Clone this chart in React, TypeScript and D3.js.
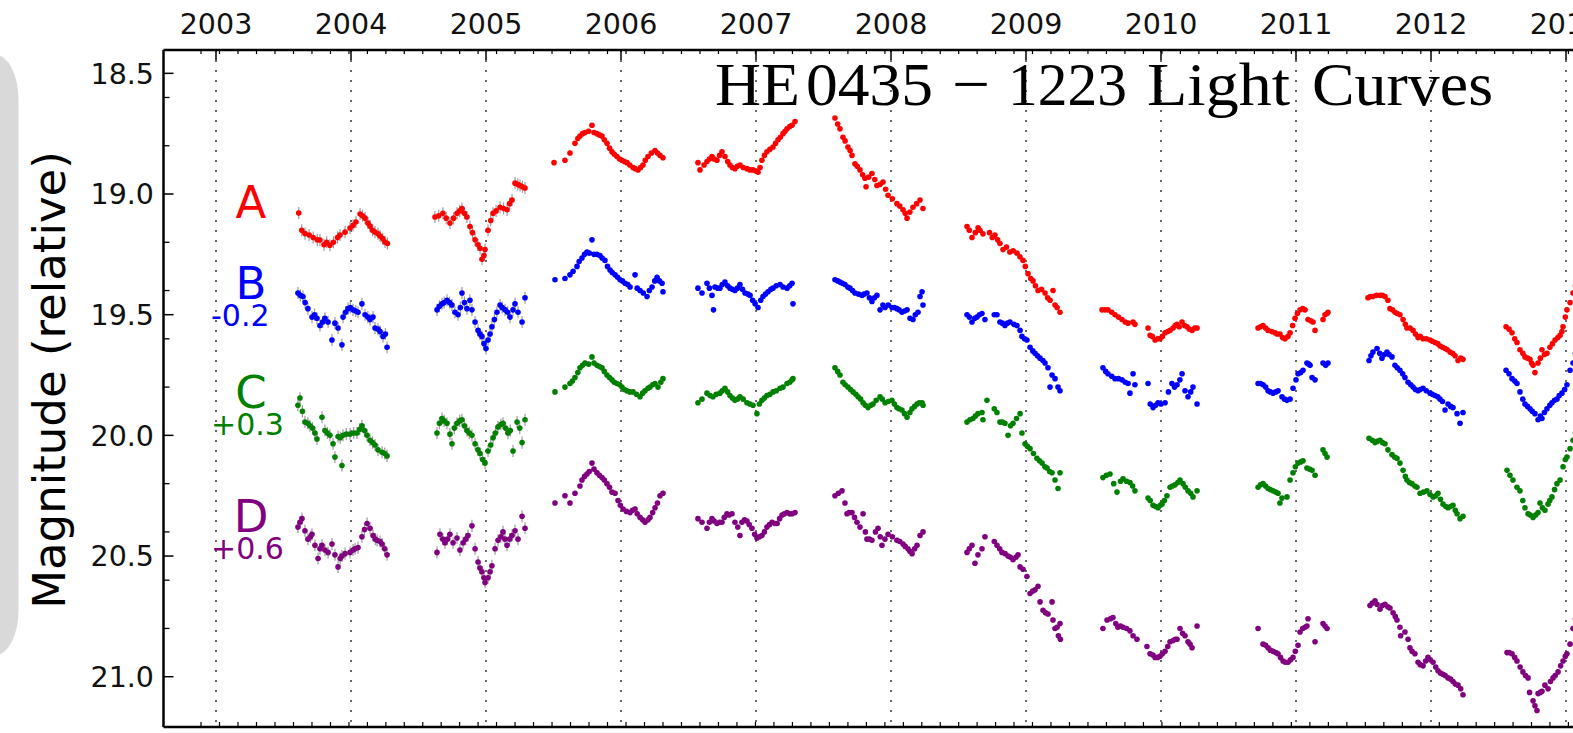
import React from 'react';
import * as d3 from 'd3';

// light curves as [decimal year, displayed magnitude], one array per observing season
const curveA: number[][][] = [
  [[2003.613,19.079],[2003.635,19.15],[2003.659,19.164],[2003.69,19.17],[2003.72,19.18],[2003.75,19.19],[2003.77,19.191],[2003.80,19.21],[2003.82,19.20],[2003.844,19.212],[2003.87,19.2],[2003.90,19.18],[2003.919,19.17],[2003.956,19.158],[2003.993,19.141],[2004.015,19.13],[2004.037,19.116],[2004.067,19.083],[2004.085,19.09],[2004.104,19.1],[2004.125,19.12],[2004.141,19.133],[2004.16,19.15],[2004.178,19.158],[2004.2,19.165],[2004.215,19.174],[2004.235,19.185],[2004.252,19.199],[2004.27,19.205]],
  [[2004.622,19.095],[2004.65,19.09],[2004.681,19.08],[2004.705,19.1],[2004.733,19.12],[2004.76,19.1],[2004.785,19.08],[2004.805,19.07],[2004.822,19.06],[2004.84,19.08],[2004.859,19.095],[2004.881,19.135],[2004.9,19.16],[2004.919,19.19],[2004.94,19.21],[2004.956,19.225],[2004.97,19.27],[2004.985,19.255],[2004.993,19.23],[2005.015,19.15],[2005.035,19.11],[2005.052,19.08],[2005.075,19.07],[2005.104,19.055],[2005.13,19.06],[2005.156,19.065],[2005.175,19.04],[2005.193,19.025],[2005.215,18.955],[2005.235,18.96],[2005.252,18.965],[2005.27,18.97],[2005.289,18.975]],
  [[2005.504,18.87],[2005.585,18.86],[2005.622,18.83],[2005.659,18.79],[2005.68,18.77],[2005.696,18.76],[2005.715,18.75],[2005.733,18.745],[2005.76,18.74],[2005.785,18.715],[2005.80,18.745],[2005.822,18.75],[2005.84,18.755],[2005.859,18.76],[2005.876,18.775],[2005.896,18.79],[2005.915,18.81],[2005.933,18.825],[2005.95,18.835],[2005.97,18.845],[2005.99,18.855],[2006.007,18.86],[2006.025,18.865],[2006.044,18.87],[2006.065,18.88],[2006.089,18.89],[2006.105,18.895],[2006.126,18.9],[2006.145,18.89],[2006.163,18.88],[2006.18,18.86],[2006.2,18.845],[2006.225,18.83],[2006.252,18.82],[2006.27,18.83],[2006.289,18.84],[2006.311,18.85]],
  [[2006.570,18.87],[2006.585,18.9],[2006.615,18.88],[2006.637,18.865],[2006.655,18.855],[2006.674,18.845],[2006.69,18.855],[2006.711,18.86],[2006.73,18.84],[2006.748,18.825],[2006.77,18.845],[2006.79,18.865],[2006.807,18.88],[2006.825,18.89],[2006.844,18.895],[2006.862,18.885],[2006.881,18.88],[2006.905,18.89],[2006.933,18.895],[2006.955,18.9],[2006.978,18.9],[2007.0,18.905],[2007.015,18.91],[2007.03,18.89],[2007.044,18.86],[2007.062,18.84],[2007.081,18.825],[2007.103,18.815],[2007.126,18.805],[2007.145,18.79],[2007.163,18.775],[2007.18,18.765],[2007.2,18.75],[2007.215,18.74],[2007.23,18.73],[2007.25,18.72],[2007.267,18.715],[2007.289,18.7]],
  [[2007.585,18.685],[2007.605,18.71],[2007.622,18.73],[2007.644,18.765],[2007.66,18.78],[2007.681,18.805],[2007.697,18.82],[2007.711,18.84],[2007.733,18.875],[2007.75,18.885],[2007.770,18.9],[2007.79,18.92],[2007.807,18.935],[2007.815,18.97],[2007.835,18.93],[2007.859,18.915],[2007.88,18.94],[2007.896,18.965],[2007.92,18.96],[2007.941,18.95],[2007.96,18.98],[2007.978,19.005],[2008.01,19.02],[2008.044,19.04],[2008.065,19.05],[2008.089,19.065],[2008.105,19.08],[2008.119,19.1],[2008.14,19.075],[2008.163,19.055],[2008.19,19.04],[2008.215,19.025],[2008.237,19.06]],
  [[2008.563,19.135],[2008.58,19.15],[2008.6,19.18],[2008.625,19.16],[2008.645,19.14],[2008.659,19.15],[2008.681,19.165],[2008.73,19.16],[2008.750,19.18],[2008.770,19.17],[2008.79,19.19],[2008.807,19.205],[2008.83,19.23],[2008.855,19.22],[2008.88,19.24],[2008.905,19.235],[2008.933,19.245],[2008.955,19.26],[2008.978,19.275],[2008.995,19.3],[2009.015,19.33],[2009.035,19.35],[2009.052,19.36],[2009.07,19.38],[2009.089,19.4],[2009.115,19.395],[2009.141,19.41],[2009.16,19.43],[2009.178,19.44],[2009.2,19.4],[2009.215,19.46],[2009.23,19.47],[2009.252,19.49]],
  [[2009.563,19.48],[2009.585,19.48],[2009.607,19.48],[2009.635,19.49],[2009.659,19.5],[2009.685,19.51],[2009.711,19.52],[2009.735,19.53],[2009.756,19.535],[2009.793,19.53],[2009.807,19.54],[2009.904,19.555],[2009.919,19.585],[2009.935,19.59],[2009.956,19.605],[2009.975,19.6],[2009.993,19.6],[2010.01,19.59],[2010.030,19.575],[2010.05,19.57],[2010.067,19.565],[2010.09,19.555],[2010.105,19.545],[2010.119,19.54],[2010.135,19.55],[2010.156,19.53],[2010.175,19.545],[2010.193,19.55],[2010.21,19.56],[2010.23,19.565],[2010.25,19.555],[2010.267,19.555]],
  [[2010.719,19.555],[2010.737,19.55],[2010.756,19.545],[2010.775,19.555],[2010.793,19.565],[2010.82,19.57],[2010.844,19.575],[2010.86,19.58],[2010.881,19.58],[2010.9,19.595],[2010.919,19.6],[2010.94,19.59],[2010.956,19.575],[2010.975,19.545],[2010.993,19.515],[2011.01,19.495],[2011.030,19.48],[2011.05,19.475],[2011.067,19.48],[2011.089,19.52],[2011.11,19.525],[2011.126,19.53],[2011.141,19.565],[2011.2,19.52],[2011.215,19.5],[2011.23,19.495],[2011.237,19.49]],
  [[2011.533,19.43],[2011.55,19.425],[2011.57,19.425],[2011.595,19.42],[2011.622,19.42],[2011.64,19.42],[2011.659,19.425],[2011.681,19.44],[2011.696,19.475],[2011.715,19.48],[2011.733,19.49],[2011.75,19.495],[2011.77,19.5],[2011.793,19.52],[2011.81,19.54],[2011.822,19.555],[2011.845,19.555],[2011.867,19.565],[2011.885,19.58],[2011.904,19.595],[2011.92,19.59],[2011.941,19.6],[2011.965,19.6],[2011.993,19.605],[2012.01,19.61],[2012.03,19.615],[2012.05,19.62],[2012.067,19.63],[2012.085,19.635],[2012.104,19.64],[2012.12,19.645],[2012.141,19.655],[2012.16,19.66],[2012.178,19.67],[2012.2,19.69],[2012.22,19.68],[2012.237,19.685]],
  [[2012.556,19.55],[2012.578,19.56],[2012.6,19.575],[2012.62,19.6],[2012.637,19.615],[2012.659,19.645],[2012.68,19.66],[2012.696,19.675],[2012.715,19.68],[2012.733,19.685],[2012.745,19.7],[2012.756,19.71],[2012.77,19.74],[2012.793,19.7],[2012.81,19.68],[2012.822,19.645],[2012.84,19.665],[2012.859,19.66],[2012.881,19.635],[2012.9,19.62],[2012.919,19.605],[2012.94,19.595],[2012.956,19.585],[2012.97,19.57],[2012.978,19.55],[2012.995,19.51],[2013.007,19.48],[2013.03,19.45],[2013.052,19.41],[2013.07,19.38]],
];

const curveB: number[][][] = [
  [[2003.607,19.41],[2003.625,19.42],[2003.644,19.425],[2003.66,19.45],[2003.681,19.475],[2003.711,19.51],[2003.73,19.5],[2003.748,19.515],[2003.77,19.545],[2003.79,19.53],[2003.807,19.515],[2003.83,19.53],[2003.859,19.605],[2003.881,19.535],[2003.904,19.555],[2003.933,19.625],[2003.941,19.51],[2003.96,19.49],[2003.978,19.475],[2003.995,19.47],[2004.015,19.48],[2004.035,19.485],[2004.052,19.49],[2004.081,19.455],[2004.104,19.5],[2004.125,19.51],[2004.141,19.52],[2004.163,19.51],[2004.178,19.555],[2004.2,19.56],[2004.215,19.57],[2004.237,19.59],[2004.255,19.58],[2004.267,19.635]],
  [[2004.637,19.48],[2004.655,19.465],[2004.674,19.455],[2004.69,19.45],[2004.711,19.44],[2004.73,19.45],[2004.748,19.46],[2004.77,19.49],[2004.793,19.5],[2004.81,19.47],[2004.822,19.41],[2004.84,19.45],[2004.859,19.475],[2004.881,19.44],[2004.896,19.48],[2004.919,19.53],[2004.941,19.565],[2004.955,19.58],[2004.970,19.59],[2004.985,19.62],[2005.0,19.64],[2005.015,19.605],[2005.03,19.58],[2005.044,19.55],[2005.062,19.52],[2005.081,19.49],[2005.104,19.46],[2005.12,19.47],[2005.141,19.48],[2005.16,19.49],[2005.178,19.51],[2005.2,19.48],[2005.215,19.455],[2005.237,19.49],[2005.267,19.53],[2005.289,19.43]],
  [[2005.511,19.355],[2005.585,19.35],[2005.622,19.335],[2005.645,19.32],[2005.674,19.3],[2005.69,19.28],[2005.711,19.265],[2005.73,19.25],[2005.748,19.24],[2005.765,19.245],[2005.785,19.19],[2005.80,19.25],[2005.822,19.25],[2005.844,19.255],[2005.86,19.265],[2005.881,19.275],[2005.9,19.3],[2005.919,19.315],[2005.935,19.325],[2005.956,19.335],[2005.975,19.345],[2005.993,19.355],[2006.01,19.36],[2006.03,19.37],[2006.05,19.375],[2006.067,19.385],[2006.104,19.335],[2006.12,19.39],[2006.141,19.4],[2006.165,19.41],[2006.193,19.425],[2006.21,19.4],[2006.23,19.385],[2006.25,19.36],[2006.267,19.345],[2006.285,19.36],[2006.304,19.37],[2006.311,19.405]],
  [[2006.57,19.39],[2006.6,19.41],[2006.637,19.37],[2006.655,19.39],[2006.674,19.42],[2006.685,19.48],[2006.696,19.385],[2006.715,19.39],[2006.733,19.39],[2006.75,19.375],[2006.77,19.365],[2006.79,19.38],[2006.807,19.39],[2006.825,19.395],[2006.844,19.4],[2006.862,19.39],[2006.881,19.375],[2006.9,19.395],[2006.919,19.41],[2006.94,19.415],[2006.956,19.42],[2006.975,19.44],[2006.993,19.455],[2007.015,19.47],[2007.035,19.44],[2007.052,19.425],[2007.07,19.415],[2007.089,19.405],[2007.11,19.395],[2007.126,19.39],[2007.15,19.38],[2007.178,19.375],[2007.2,19.385],[2007.23,19.39],[2007.25,19.38],[2007.267,19.37],[2007.274,19.455]],
  [[2007.585,19.355],[2007.605,19.36],[2007.622,19.365],[2007.64,19.37],[2007.659,19.375],[2007.68,19.385],[2007.696,19.39],[2007.715,19.40],[2007.733,19.41],[2007.76,19.415],[2007.785,19.42],[2007.80,19.415],[2007.822,19.41],[2007.84,19.43],[2007.859,19.445],[2007.877,19.43],[2007.896,19.42],[2007.919,19.48],[2007.94,19.46],[2007.956,19.47],[2007.98,19.46],[2008.007,19.47],[2008.025,19.47],[2008.044,19.475],[2008.06,19.48],[2008.081,19.49],[2008.1,19.485],[2008.119,19.48],[2008.141,19.515],[2008.163,19.52],[2008.18,19.5],[2008.2,19.49],[2008.215,19.425],[2008.23,19.405],[2008.237,19.46]],
  [[2008.563,19.5],[2008.58,19.51],[2008.6,19.53],[2008.62,19.515],[2008.637,19.51],[2008.655,19.5],[2008.674,19.495],[2008.696,19.52],[2008.765,19.5],[2008.785,19.5],[2008.807,19.53],[2008.825,19.535],[2008.844,19.545],[2008.862,19.535],[2008.881,19.53],[2008.91,19.54],[2008.933,19.545],[2008.956,19.565],[2008.970,19.59],[2008.99,19.6],[2009.007,19.605],[2009.03,19.635],[2009.05,19.65],[2009.067,19.66],[2009.085,19.67],[2009.104,19.68],[2009.125,19.69],[2009.141,19.7],[2009.163,19.72],[2009.178,19.8],[2009.193,19.75],[2009.215,19.765],[2009.237,19.8],[2009.252,19.815]],
  [[2009.57,19.72],[2009.59,19.735],[2009.607,19.745],[2009.635,19.755],[2009.659,19.765],[2009.685,19.765],[2009.711,19.77],[2009.735,19.78],[2009.756,19.785],[2009.77,19.825],[2009.793,19.745],[2009.807,19.79],[2009.904,19.785],[2009.92,19.87],[2009.941,19.885],[2009.96,19.875],[2009.978,19.865],[2010.0,19.87],[2010.03,19.865],[2010.055,19.82],[2010.081,19.785],[2010.1,19.8],[2010.119,19.79],[2010.14,19.77],[2010.156,19.745],[2010.178,19.815],[2010.2,19.84],[2010.22,19.82],[2010.237,19.8],[2010.267,19.87]],
  [[2010.719,19.785],[2010.737,19.785],[2010.756,19.79],[2010.775,19.8],[2010.793,19.815],[2010.81,19.82],[2010.83,19.825],[2010.85,19.82],[2010.867,19.815],[2010.896,19.84],[2010.915,19.85],[2010.933,19.855],[2010.956,19.85],[2010.978,19.805],[2011.0,19.77],[2011.015,19.745],[2011.035,19.74],[2011.052,19.73],[2011.081,19.7],[2011.095,19.705],[2011.104,19.71],[2011.119,19.76],[2011.141,19.77],[2011.2,19.7],[2011.22,19.71],[2011.237,19.7]],
  [[2011.541,19.69],[2011.555,19.67],[2011.57,19.655],[2011.6,19.64],[2011.62,19.66],[2011.637,19.68],[2011.655,19.665],[2011.674,19.655],[2011.69,19.665],[2011.711,19.675],[2011.733,19.71],[2011.75,19.72],[2011.77,19.73],[2011.79,19.745],[2011.807,19.76],[2011.83,19.78],[2011.85,19.79],[2011.867,19.8],[2011.885,19.81],[2011.904,19.815],[2011.92,19.81],[2011.941,19.805],[2011.965,19.815],[2011.993,19.825],[2012.01,19.83],[2012.03,19.835],[2012.05,19.84],[2012.067,19.85],[2012.085,19.86],[2012.104,19.895],[2012.126,19.87],[2012.145,19.88],[2012.163,19.885],[2012.193,19.91],[2012.215,19.95],[2012.237,19.905]],
  [[2012.556,19.73],[2012.578,19.745],[2012.6,19.765],[2012.62,19.775],[2012.637,19.785],[2012.659,19.82],[2012.68,19.85],[2012.696,19.87],[2012.715,19.88],[2012.733,19.89],[2012.75,19.9],[2012.77,19.91],[2012.793,19.935],[2012.81,19.92],[2012.822,19.93],[2012.84,19.905],[2012.859,19.89],[2012.88,19.875],[2012.896,19.865],[2012.915,19.855],[2012.933,19.85],[2012.95,19.835],[2012.97,19.825],[2012.99,19.81],[2013.007,19.79],[2013.03,19.73],[2013.052,19.7],[2013.07,19.66]],
];

const curveC: number[][][] = [
  [[2003.607,19.875],[2003.622,19.845],[2003.64,19.9],[2003.659,19.945],[2003.68,19.95],[2003.696,19.96],[2003.715,19.97],[2003.733,19.99],[2003.748,20.015],[2003.785,19.925],[2003.807,19.98],[2003.825,19.99],[2003.844,20.0],[2003.867,20.035],[2003.881,20.09],[2003.904,20.005],[2003.92,20.01],[2003.933,20.125],[2003.941,20.0],[2003.965,19.995],[2003.993,19.995],[2004.02,19.99],[2004.044,19.99],[2004.065,19.975],[2004.081,19.96],[2004.1,19.98],[2004.119,20.0],[2004.141,20.02],[2004.16,20.03],[2004.178,20.04],[2004.2,20.06],[2004.23,20.07],[2004.25,20.075],[2004.267,20.085]],
  [[2004.637,19.99],[2004.655,19.95],[2004.674,19.93],[2004.69,19.94],[2004.711,19.95],[2004.733,19.995],[2004.748,20.035],[2004.765,19.97],[2004.785,19.95],[2004.805,19.94],[2004.822,19.935],[2004.84,19.96],[2004.859,19.98],[2004.876,19.99],[2004.896,20.0],[2004.919,20.035],[2004.94,20.06],[2004.956,20.075],[2004.975,20.1],[2004.993,20.115],[2005.015,20.065],[2005.035,20.04],[2005.052,20.01],[2005.07,19.99],[2005.089,19.965],[2005.11,19.955],[2005.126,19.95],[2005.145,19.97],[2005.163,19.99],[2005.18,19.98],[2005.2,20.065],[2005.23,19.945],[2005.25,19.97],[2005.267,20.03],[2005.289,19.935]],
  [[2005.511,19.82],[2005.585,19.8],[2005.622,19.785],[2005.64,19.775],[2005.659,19.76],[2005.68,19.74],[2005.696,19.72],[2005.715,19.71],[2005.733,19.7],[2005.76,19.705],[2005.785,19.675],[2005.80,19.7],[2005.822,19.71],[2005.84,19.715],[2005.859,19.72],[2005.876,19.735],[2005.896,19.75],[2005.915,19.76],[2005.933,19.77],[2005.95,19.78],[2005.970,19.785],[2005.99,19.79],[2006.007,19.8],[2006.025,19.81],[2006.044,19.815],[2006.065,19.82],[2006.089,19.82],[2006.115,19.83],[2006.141,19.84],[2006.16,19.825],[2006.178,19.815],[2006.2,19.805],[2006.215,19.8],[2006.235,19.79],[2006.252,19.785],[2006.274,19.8],[2006.295,19.78],[2006.311,19.765]],
  [[2006.57,19.865],[2006.6,19.85],[2006.637,19.825],[2006.66,19.835],[2006.681,19.84],[2006.705,19.83],[2006.733,19.825],[2006.75,19.815],[2006.77,19.805],[2006.79,19.82],[2006.807,19.835],[2006.825,19.845],[2006.844,19.855],[2006.862,19.85],[2006.881,19.84],[2006.905,19.85],[2006.933,19.865],[2006.955,19.87],[2006.978,19.875],[2007.007,19.91],[2007.025,19.87],[2007.044,19.855],[2007.062,19.845],[2007.081,19.835],[2007.103,19.83],[2007.126,19.82],[2007.15,19.815],[2007.178,19.805],[2007.2,19.8],[2007.23,19.785],[2007.25,19.78],[2007.267,19.77],[2007.274,19.765]],
  [[2007.585,19.72],[2007.605,19.735],[2007.622,19.75],[2007.644,19.78],[2007.66,19.79],[2007.681,19.8],[2007.7,19.81],[2007.719,19.82],[2007.74,19.83],[2007.756,19.84],[2007.775,19.85],[2007.793,19.865],[2007.81,19.875],[2007.830,19.885],[2007.85,19.875],[2007.867,19.87],[2007.89,19.855],[2007.919,19.84],[2007.935,19.85],[2007.956,19.865],[2007.98,19.86],[2008.007,19.855],[2008.025,19.87],[2008.044,19.885],[2008.06,19.89],[2008.081,19.895],[2008.1,19.91],[2008.119,19.925],[2008.14,19.905],[2008.156,19.89],[2008.175,19.88],[2008.193,19.87],[2008.21,19.865],[2008.23,19.865],[2008.237,19.875]],
  [[2008.563,19.945],[2008.585,19.935],[2008.607,19.93],[2008.625,19.92],[2008.644,19.91],[2008.674,19.905],[2008.681,19.935],[2008.711,19.855],[2008.765,19.89],[2008.785,19.905],[2008.807,19.945],[2008.825,19.945],[2008.844,19.95],[2008.867,20.0],[2008.885,19.96],[2008.904,19.95],[2008.93,19.93],[2008.956,19.91],[2008.970,19.99],[2008.993,20.035],[2009.01,20.045],[2009.03,20.055],[2009.055,20.075],[2009.081,20.095],[2009.1,20.105],[2009.119,20.115],[2009.14,20.13],[2009.156,20.135],[2009.175,20.15],[2009.193,20.155],[2009.215,20.185],[2009.237,20.22],[2009.252,20.155]],
  [[2009.57,20.175],[2009.595,20.165],[2009.622,20.16],[2009.65,20.2],[2009.674,20.235],[2009.7,20.19],[2009.719,20.18],[2009.745,20.19],[2009.77,20.195],[2009.79,20.21],[2009.807,20.23],[2009.904,20.26],[2009.92,20.27],[2009.941,20.29],[2009.96,20.295],[2009.978,20.3],[2009.995,20.29],[2010.007,20.285],[2010.025,20.27],[2010.044,20.25],[2010.067,20.215],[2010.085,20.21],[2010.104,20.205],[2010.125,20.195],[2010.141,20.185],[2010.163,20.2],[2010.18,20.215],[2010.2,20.23],[2010.22,20.24],[2010.237,20.255],[2010.267,20.23]],
  [[2010.719,20.215],[2010.737,20.205],[2010.756,20.2],[2010.775,20.21],[2010.793,20.22],[2010.81,20.225],[2010.83,20.23],[2010.85,20.235],[2010.867,20.24],[2010.881,20.28],[2010.896,20.26],[2010.933,20.255],[2010.956,20.185],[2010.978,20.155],[2010.995,20.13],[2011.015,20.115],[2011.035,20.11],[2011.052,20.105],[2011.081,20.135],[2011.1,20.14],[2011.119,20.145],[2011.141,20.165],[2011.2,20.06],[2011.215,20.075],[2011.23,20.09]],
  [[2011.541,20.012],[2011.565,20.02],[2011.585,20.03],[2011.6,20.025],[2011.622,20.02],[2011.64,20.03],[2011.659,20.035],[2011.681,20.06],[2011.711,20.08],[2011.73,20.09],[2011.748,20.095],[2011.77,20.115],[2011.793,20.145],[2011.81,20.17],[2011.822,20.185],[2011.84,20.195],[2011.859,20.2],[2011.88,20.21],[2011.896,20.215],[2011.919,20.24],[2011.945,20.235],[2011.97,20.23],[2011.993,20.245],[2012.015,20.255],[2012.035,20.25],[2012.052,20.24],[2012.07,20.265],[2012.089,20.285],[2012.11,20.295],[2012.126,20.3],[2012.145,20.295],[2012.163,20.29],[2012.18,20.31],[2012.193,20.325],[2012.215,20.345],[2012.237,20.335]],
  [[2012.563,20.145],[2012.585,20.165],[2012.607,20.185],[2012.637,20.215],[2012.659,20.23],[2012.68,20.27],[2012.696,20.3],[2012.719,20.325],[2012.735,20.33],[2012.756,20.34],[2012.775,20.33],[2012.793,20.32],[2012.807,20.28],[2012.825,20.3],[2012.844,20.31],[2012.867,20.285],[2012.88,20.27],[2012.896,20.255],[2012.915,20.225],[2012.933,20.2],[2012.956,20.185],[2012.978,20.13],[2012.995,20.1],[2013.007,20.09],[2013.03,20.055],[2013.052,20.02],[2013.07,19.99]],
];

const curveD: number[][][] = [
  [[2003.607,20.38],[2003.622,20.36],[2003.637,20.345],[2003.659,20.395],[2003.681,20.43],[2003.7,20.42],[2003.711,20.41],[2003.733,20.455],[2003.756,20.51],[2003.77,20.47],[2003.785,20.455],[2003.807,20.475],[2003.83,20.485],[2003.859,20.45],[2003.881,20.495],[2003.904,20.545],[2003.92,20.51],[2003.933,20.5],[2003.956,20.49],[2003.993,20.485],[2004.015,20.475],[2004.03,20.47],[2004.052,20.465],[2004.081,20.42],[2004.1,20.39],[2004.119,20.365],[2004.141,20.385],[2004.163,20.415],[2004.18,20.43],[2004.193,20.435],[2004.215,20.44],[2004.23,20.45],[2004.25,20.47],[2004.267,20.495]],
  [[2004.637,20.485],[2004.659,20.41],[2004.68,20.43],[2004.696,20.445],[2004.715,20.43],[2004.733,20.41],[2004.756,20.445],[2004.785,20.425],[2004.807,20.475],[2004.83,20.445],[2004.85,20.43],[2004.867,20.415],[2004.896,20.375],[2004.919,20.47],[2004.941,20.525],[2004.955,20.55],[2004.970,20.565],[2004.985,20.59],[2004.993,20.61],[2005.015,20.59],[2005.03,20.565],[2005.044,20.54],[2005.067,20.47],[2005.089,20.435],[2005.11,20.42],[2005.126,20.4],[2005.14,20.43],[2005.156,20.455],[2005.175,20.43],[2005.193,20.415],[2005.215,20.395],[2005.237,20.43],[2005.267,20.335],[2005.289,20.385]],
  [[2005.511,20.28],[2005.585,20.25],[2005.622,20.28],[2005.659,20.24],[2005.696,20.21],[2005.711,20.185],[2005.73,20.17],[2005.748,20.16],[2005.765,20.15],[2005.785,20.115],[2005.80,20.14],[2005.822,20.155],[2005.84,20.165],[2005.859,20.175],[2005.876,20.185],[2005.896,20.2],[2005.915,20.215],[2005.933,20.235],[2005.956,20.24],[2005.978,20.27],[2005.995,20.29],[2006.015,20.305],[2006.04,20.315],[2006.067,20.32],[2006.085,20.31],[2006.104,20.305],[2006.12,20.325],[2006.141,20.34],[2006.16,20.35],[2006.178,20.36],[2006.2,20.35],[2006.215,20.34],[2006.235,20.32],[2006.252,20.3],[2006.27,20.28],[2006.289,20.25],[2006.311,20.24]],
  [[2006.57,20.345],[2006.6,20.36],[2006.637,20.385],[2006.655,20.36],[2006.674,20.345],[2006.69,20.355],[2006.711,20.365],[2006.73,20.36],[2006.748,20.36],[2006.765,20.34],[2006.785,20.325],[2006.8,20.33],[2006.822,20.325],[2006.844,20.36],[2006.865,20.38],[2006.881,20.415],[2006.896,20.36],[2006.915,20.35],[2006.933,20.355],[2006.95,20.37],[2006.97,20.385],[2006.99,20.41],[2007.007,20.425],[2007.025,20.42],[2007.044,20.415],[2007.062,20.4],[2007.081,20.38],[2007.1,20.37],[2007.119,20.36],[2007.14,20.365],[2007.156,20.365],[2007.175,20.345],[2007.193,20.33],[2007.21,20.325],[2007.23,20.32],[2007.25,20.325],[2007.267,20.325],[2007.289,20.32]],
  [[2007.585,20.25],[2007.61,20.24],[2007.637,20.23],[2007.659,20.28],[2007.674,20.325],[2007.69,20.32],[2007.711,20.32],[2007.73,20.34],[2007.748,20.36],[2007.77,20.38],[2007.793,20.325],[2007.81,20.4],[2007.822,20.43],[2007.84,20.43],[2007.859,20.435],[2007.885,20.4],[2007.904,20.385],[2007.92,20.42],[2007.933,20.455],[2007.955,20.43],[2007.978,20.41],[2008.01,20.42],[2008.044,20.435],[2008.065,20.44],[2008.089,20.45],[2008.105,20.46],[2008.126,20.47],[2008.14,20.48],[2008.156,20.49],[2008.175,20.47],[2008.193,20.455],[2008.215,20.415],[2008.237,20.4]],
  [[2008.563,20.485],[2008.58,20.47],[2008.6,20.455],[2008.622,20.53],[2008.644,20.495],[2008.674,20.47],[2008.696,20.42],[2008.765,20.44],[2008.785,20.455],[2008.805,20.47],[2008.822,20.485],[2008.845,20.49],[2008.867,20.5],[2008.885,20.505],[2008.904,20.515],[2008.925,20.505],[2008.941,20.495],[2008.956,20.545],[2008.978,20.555],[2009.007,20.585],[2009.03,20.655],[2009.05,20.645],[2009.067,20.64],[2009.089,20.625],[2009.104,20.69],[2009.126,20.725],[2009.145,20.735],[2009.163,20.74],[2009.193,20.69],[2009.2,20.765],[2009.215,20.8],[2009.23,20.795],[2009.24,20.83],[2009.252,20.78],[2009.255,20.845]],
  [[2009.57,20.8],[2009.6,20.765],[2009.625,20.76],[2009.644,20.755],[2009.665,20.78],[2009.681,20.795],[2009.7,20.79],[2009.719,20.795],[2009.745,20.8],[2009.77,20.81],[2009.793,20.83],[2009.822,20.845],[2009.896,20.875],[2009.919,20.905],[2009.94,20.91],[2009.956,20.92],[2009.975,20.92],[2009.993,20.915],[2010.01,20.905],[2010.03,20.895],[2010.05,20.875],[2010.067,20.855],[2010.09,20.85],[2010.105,20.845],[2010.119,20.845],[2010.141,20.8],[2010.16,20.82],[2010.178,20.83],[2010.2,20.855],[2010.215,20.865],[2010.23,20.88],[2010.267,20.79]],
  [[2010.719,20.8],[2010.756,20.865],[2010.775,20.87],[2010.793,20.88],[2010.81,20.89],[2010.83,20.895],[2010.85,20.9],[2010.867,20.905],[2010.885,20.92],[2010.904,20.935],[2010.92,20.94],[2010.941,20.94],[2010.96,20.93],[2010.978,20.92],[2010.995,20.895],[2011.015,20.87],[2011.03,20.815],[2011.05,20.8],[2011.067,20.795],[2011.081,20.79],[2011.089,20.76],[2011.141,20.855],[2011.2,20.78],[2011.215,20.79],[2011.23,20.8]],
  [[2011.548,20.705],[2011.565,20.695],[2011.585,20.685],[2011.6,20.7],[2011.622,20.72],[2011.64,20.705],[2011.659,20.7],[2011.68,20.71],[2011.696,20.715],[2011.719,20.735],[2011.735,20.75],[2011.748,20.765],[2011.77,20.795],[2011.775,20.83],[2011.807,20.815],[2011.83,20.845],[2011.844,20.88],[2011.86,20.895],[2011.881,20.905],[2011.904,20.94],[2011.92,20.95],[2011.941,20.955],[2011.96,20.935],[2011.978,20.92],[2011.995,20.93],[2012.015,20.94],[2012.035,20.96],[2012.052,20.975],[2012.07,20.985],[2012.089,20.99],[2012.105,20.995],[2012.126,21.005],[2012.145,21.01],[2012.163,21.02],[2012.18,21.03],[2012.2,21.035],[2012.22,21.05],[2012.237,21.075]],
  [[2012.563,20.9],[2012.58,20.9],[2012.6,20.905],[2012.62,20.92],[2012.637,20.935],[2012.66,20.96],[2012.681,20.98],[2012.7,20.995],[2012.719,21.005],[2012.73,21.065],[2012.756,21.1],[2012.77,21.12],[2012.785,21.14],[2012.793,21.07],[2012.81,21.065],[2012.822,21.06],[2012.844,21.035],[2012.867,21.05],[2012.885,21.02],[2012.904,21.005],[2012.92,20.995],[2012.941,20.98],[2012.96,20.955],[2012.978,20.935],[2012.995,20.915],[2013.007,20.905],[2013.03,20.865],[2013.052,20.8],[2013.07,20.76]],
];

// typical photometric error per season (mag)
const seasonErr = [0.025, 0.025, 0.01, 0.008, 0.007, 0.007, 0.007, 0.008, 0.008, 0.01];

const imageNames = ['A', 'B', 'C', 'D'];
const imageShifts = ['', '-0.2', '+0.3', '+0.6'];
const imageColors = ['#ff0000', '#0000ff', '#008000', '#800080'];
const curves = [curveA, curveB, curveC, curveD];

const yearTicks = d3.range(2003, 2014);
const magTicks = [18.5, 19.0, 19.5, 20.0, 20.5, 21.0];
const magMinor = [18.6, 18.8, 19.2, 19.4, 19.6, 19.8, 20.2, 20.4, 20.6, 20.8];
const hjdMinor = d3.range(2600, 6500, 50); // HJD - 2450000
const titleParts = ['HE', '0435', '\u2212', '1223', 'Light', 'Curves'];

const W = 1573;
const H = 733;
const left = 163.5;
const top = 50;
const bottom = 727;

const x = d3.scaleLinear().domain([2003, 2013]).range([216, 1566]);
const y = d3.scaleLinear().domain([18.4, 21.21]).range([49.2, 727.4]);

function hjdToYear(h: number) {
  const ms = (h + 2450000 - 2440587.5) * 86400000;
  const yr = new Date(ms).getUTCFullYear();
  const a = Date.UTC(yr, 0, 1);
  const b = Date.UTC(yr + 1, 0, 1);
  return yr + (ms - a) / (b - a);
}

// title pieces: start x and width in px (layout of the typeset title)
const titleX = [715, 806, 952, 1008, 1147, 1312];
const titleW = [85, 127, 38, 119, 143, 181];
// image label baselines
const labelY = [218, 299, 408, 532];

export default function App() {
  const font = 'DejaVu Sans, sans-serif';
  return (
    <svg width={W} height={H} style={{ position: 'absolute', left: 0, top: 0, background: '#fff' }}>
      <rect x={-27} y={55} width={45.5} height={600} rx={45} fill="#d9d9d9" />
      <text
        transform={`translate(65,380) rotate(-90)`}
        textAnchor="middle"
        fontFamily={font}
        fontSize={45}
        fill="#000"
      >
        Magnitude (relative)
      </text>

      {/* year grid */}
      {yearTicks.map((t) => (
        <line key={'g' + t} x1={x(t)} x2={x(t)} y1={top} y2={bottom}
          stroke="#444" strokeWidth={1.6} strokeDasharray="2 8" />
      ))}

      {/* error bars then points */}
      {curves.map((c, i) => (
        <g key={'c' + i}>
          {c.map((season, s) =>
            season.map((p, j) => (
              <line key={`e${s}-${j}`} x1={x(p[0])} x2={x(p[0])}
                y1={y(p[1] - seasonErr[s])} y2={y(p[1] + seasonErr[s])}
                stroke="#9a9a9a" strokeWidth={1.2} />
            ))
          )}
          {c.map((season, s) =>
            season.map((p, j) => (
              <circle key={`p${s}-${j}`} cx={x(p[0])} cy={y(p[1])} r={2.8} fill={imageColors[i]} />
            ))
          )}
        </g>
      ))}

      {/* frame */}
      <line x1={left} x2={W + 10} y1={top} y2={top} stroke="#000" strokeWidth={2.5} />
      <line x1={left} x2={W + 10} y1={bottom} y2={bottom} stroke="#000" strokeWidth={2.5} />
      <line x1={left} x2={left} y1={top} y2={bottom} stroke="#000" strokeWidth={2.5} />

      {/* HJD minor ticks, top and bottom */}
      {hjdMinor.map((h) => {
        const px = x(hjdToYear(h));
        if (px < left + 2 || px > W + 5) return null;
        return (
          <g key={'h' + h}>
            <line x1={px} x2={px} y1={top} y2={top + 4} stroke="#000" strokeWidth={1.2} />
            <line x1={px} x2={px} y1={bottom} y2={bottom - 5} stroke="#000" strokeWidth={1.2} />
          </g>
        );
      })}

      {/* year ticks and labels */}
      {yearTicks.map((t) => (
        <g key={'y' + t}>
          <line x1={x(t)} x2={x(t)} y1={top} y2={top + 10} stroke="#000" strokeWidth={1.5} />
          <text x={x(t)} y={34} textAnchor="middle" fontFamily={font} fontSize={28.5} fill="#111">
            {t}
          </text>
        </g>
      ))}

      {/* magnitude ticks */}
      {magTicks.map((m) => (
        <g key={'m' + m}>
          <line x1={left} x2={left + 10} y1={y(m)} y2={y(m)} stroke="#000" strokeWidth={1.5} />
          <text x={154} y={y(m) + 10.2} textAnchor="end" fontFamily={font} fontSize={28.5} fill="#111">
            {m.toFixed(1)}
          </text>
        </g>
      ))}
      {magMinor.map((m) => (
        <line key={'n' + m} x1={left} x2={left + 6} y1={y(m)} y2={y(m)} stroke="#000" strokeWidth={1.3} />
      ))}

      {/* title */}
      {titleParts.map((s, i) => (
        <text key={'t' + i} x={titleX[i]} y={105} fontFamily="Liberation Serif, DejaVu Serif, serif"
          fontSize={62} textLength={titleW[i]} lengthAdjust="spacingAndGlyphs" fill="#000">
          {s}
        </text>
      ))}

      {/* image labels */}
      {imageNames.map((n, i) => (
        <g key={'l' + n}>
          <text x={251} y={labelY[i]} textAnchor="middle" fontFamily={font} fontSize={45} fill={imageColors[i]}>
            {n}
          </text>
          {imageShifts[i] && (
            <text x={211} y={labelY[i] + 27} fontFamily={font} fontSize={30} fill={imageColors[i]}>
              {imageShifts[i]}
            </text>
          )}
        </g>
      ))}
    </svg>
  );
}
